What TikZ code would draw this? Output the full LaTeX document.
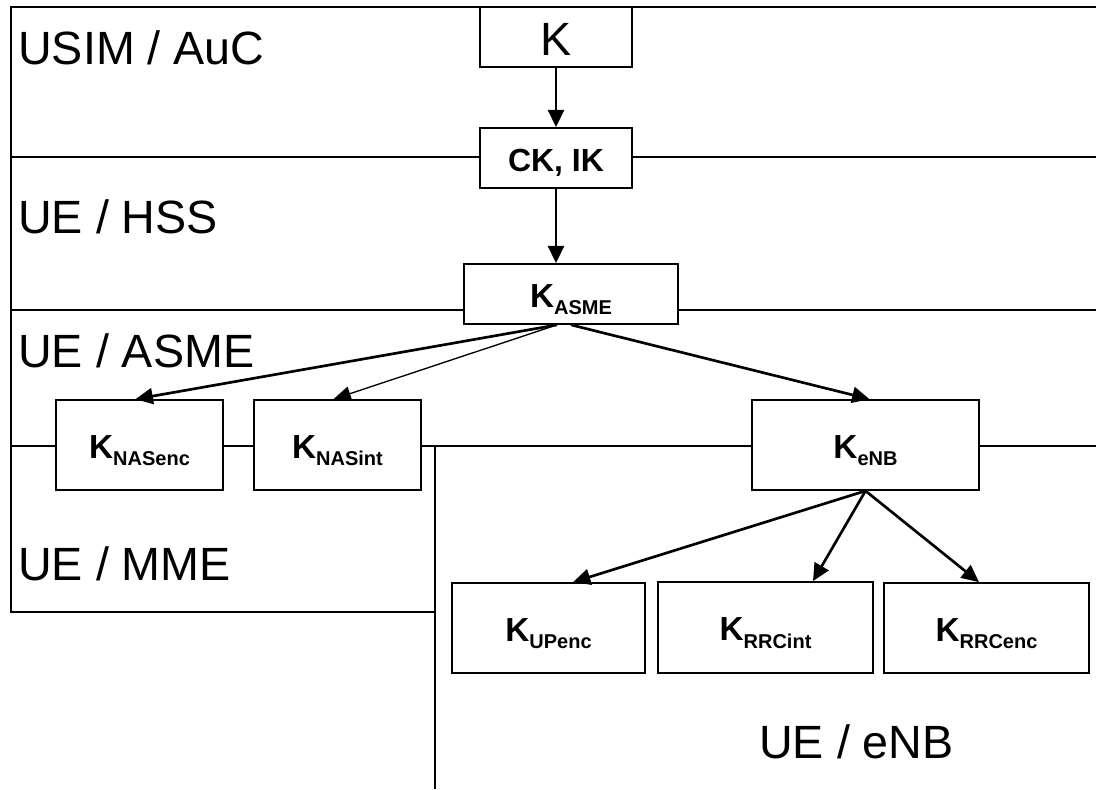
\documentclass[tikz,border=0pt]{standalone}
\usepackage{fontspec}
\setmainfont{Liberation Sans}
\usetikzlibrary{arrows.meta,calc}
\newcommand{\keylbl}[1]{\fontsize{25}{28}\selectfont\bfseries K\raisebox{-5.5pt}{\fontsize{15}{17}\selectfont\bfseries #1}}
\begin{document}
\begin{tikzpicture}[x=0.75pt,y=-0.75pt,
  region/.style={line width=1.75pt},
  keybox/.style 2 args={draw,fill=white,line width=1.3pt,inner sep=0pt,minimum width=#1,minimum height=#2,text height=20pt,text depth=0pt},
  biglbl/.style={anchor=base west,inner sep=0pt,font=\fontsize{35}{40}\selectfont},
  arr/.style={-{Triangle[length=13pt,width=12pt]},line width=2pt},
  thinarr/.style={-{Triangle[length=13pt,width=11pt]},line width=1pt}]
\useasboundingbox (0,0) rectangle (1096,789);
% region lines
\draw[region] (1096,7) -- (11,7) -- (11,612) -- (435,612);
\draw[region] (11,157) -- (1096,157);
\draw[region] (11,310) -- (1096,310);
\draw[region] (11,446) -- (1096,446);
\draw[region] (435,446) -- (435,789);
% region labels
\node[biglbl] (usim) at (18,64) {USIM / AuC};
\node[biglbl] (hss) at (18,233) {UE / HSS};
\node[biglbl] (asme) at (18,367) {UE / ASME};
\node[biglbl] (mme) at (18,580) {UE / MME};
\node[biglbl] (enbl) at (759,758) {UE / eNB};
% key boxes
\node[keybox={114pt}{45pt},font=\fontsize{35}{40}\selectfont,text height=28pt] (k) at (556,37) {K};
\node[keybox={114pt}{45pt},font=\fontsize{24}{28}\selectfont\bfseries] (ck) at (556,158) {CK, IK};
\node[keybox={160.5pt}{45pt}] (kasme) at (571,294) {\keylbl{ASME}};
\node[keybox={125.25pt}{67.5pt}] (nasenc) at (139.5,445) {\keylbl{NASenc}};
\node[keybox={125.25pt}{67.5pt}] (nasint) at (337.5,445) {\keylbl{NASint}};
\node[keybox={170.25pt}{67.5pt}] (kenb) at (865.5,445) {\keylbl{eNB}};
\node[keybox={144.75pt}{67.5pt}] (upenc) at (548.5,628) {\keylbl{UPenc}};
\node[keybox={161.25pt}{68.25pt}] (rrcint) at (765.5,627.5) {\keylbl{RRCint}};
\node[keybox={153.75pt}{67.5pt}] (rrcenc) at (986.5,628) {\keylbl{RRCenc}};
% arrows
\draw[arr] (k.south) -- (ck.north);
\draw[arr] (ck.south) -- (ck.south |- kasme.north);
\draw[arr] ($(kasme.south)+(-14,0)$) -- ($(nasenc.north)+(-4,0)$);
\draw[thinarr] ($(kasme.south)+(-14,0)$) -- ($(nasint.north)+(-4,0)$);
\draw[arr] (kasme.south) -- ($(kenb.north)+(4,0)$);
\draw[arr] (kenb.south) -- ($(upenc.north)+(24.5,0)$);
\draw[arr] (kenb.south) -- ($(rrcint.north)+(47.5,0)$);
\draw[arr] (kenb.south) -- ($(rrcenc.north)+(-7.5,0)$);
\end{tikzpicture}
\end{document}
